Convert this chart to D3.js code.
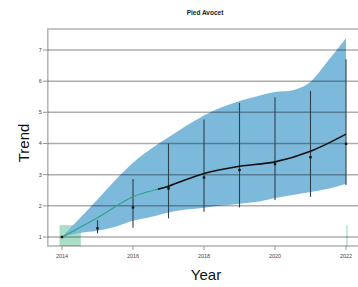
<!DOCTYPE html>
<html lang="en">
<head>
  <meta charset="UTF-8">
  <title>Pied Avocet</title>
  <style>
    body, html { margin: 0; padding: 0; background: #fff; }
    #svg { display: block; }
  </style>
</head>
<body>
  <svg id="svg" width="358" height="287"></svg>
  <script src="https://d3js.org/d3.v7.min.js"></script>
  <script>
    // ribbon, sampled every half year
    const bandYears = [2014, 2014.5, 2015, 2015.5, 2016, 2016.5, 2017, 2017.5, 2018,
                       2018.5, 2019, 2019.5, 2020, 2020.5, 2021, 2021.5, 2022]
    const bandUpper = [1.0, 1.6, 2.2, 2.82, 3.38, 3.82, 4.2, 4.57, 4.9,
                       5.16, 5.36, 5.52, 5.65, 5.71, 5.98, 6.66, 7.38]
    const bandLower = [1.0, 1.13, 1.2, 1.33, 1.52, 1.64, 1.79, 1.88, 1.94,
                       2.01, 2.07, 2.13, 2.25, 2.35, 2.44, 2.55, 2.71]

    // smoothed trend
    const trendYears = [2014, 2015, 2016, 2017, 2018, 2019, 2020, 2021, 2022]
    const trendValues = [1.0, 1.62, 2.29, 2.63, 3.04, 3.27, 3.41, 3.75, 4.3]

    // yearly index with error bars
    const years = [2014, 2015, 2016, 2017, 2018, 2019, 2020, 2021, 2022]
    const index = [1.0, 1.28, 1.95, 2.56, 2.91, 3.15, 3.34, 3.56, 3.99]
    const barLow = [1.0, 1.12, 1.3, 1.6, 1.81, 1.95, 2.19, 2.29, 2.67]
    const barHigh = [1.0, 1.54, 2.86, 4.0, 4.77, 5.3, 5.48, 5.69, 6.7]

    const yTicks = [1, 2, 3, 4, 5, 6, 7]
    const xTicks = [2014, 2016, 2018, 2020, 2022]

    const svg = d3.select('#svg')

    const x = d3.scaleLinear().domain([2014, 2022]).range([62, 346])
    const y = d3.scaleLinear().domain([1, 7]).range([237, 50])

    const panelLeft = x(2013.6), panelTop = y(7.67), panelBottom = y(0.71)

    // green baseline markers (start and end)
    svg.append('rect')
      .attr('x', x(2013.93)).attr('width', x(2014.53) - x(2013.93))
      .attr('y', y(1.38)).attr('height', y(0.71) - y(1.38))
      .attr('fill', '#8fd3b4').attr('opacity', 0.75)
    svg.append('line')
      .attr('x1', x(2022) + 1).attr('x2', x(2022) + 1)
      .attr('y1', y(1.38)).attr('y2', y(0.71))
      .attr('stroke', '#9fdcc3').attr('stroke-width', 1.2)

    // ribbon
    const band = bandYears.map((d, i) => ({ yr: d, lo: bandLower[i], hi: bandUpper[i] }))
    svg.append('path')
      .datum(band)
      .attr('d', d3.area()
        .x(d => x(d.yr))
        .y0(d => y(d.lo))
        .y1(d => y(d.hi))
        .curve(d3.curveMonotoneX))
      .attr('fill', '#7cb9da')

    // grid lines on top of the ribbon
    svg.append('g')
      .selectAll('line')
      .data(yTicks)
      .join('line')
      .attr('x1', panelLeft).attr('x2', 360)
      .attr('y1', d => y(d)).attr('y2', d => y(d))
      .attr('stroke', '#000').attr('stroke-opacity', 0.32).attr('stroke-width', 1.5)

    // frame
    svg.append('path')
      .attr('d', `M360,${panelTop}H${panelLeft}V${panelBottom}H360`)
      .attr('fill', 'none')
      .attr('stroke', '#000').attr('stroke-opacity', 0.3).attr('stroke-width', 1.5)

    // y ticks
    const yAxis = svg.append('g')
    yAxis.selectAll('line')
      .data(yTicks)
      .join('line')
      .attr('x1', panelLeft - 5).attr('x2', panelLeft)
      .attr('y1', d => y(d)).attr('y2', d => y(d))
      .attr('stroke', '#999').attr('stroke-width', 1)
    yAxis.selectAll('text')
      .data(yTicks)
      .join('text')
      .attr('x', panelLeft - 6)
      .attr('y', d => y(d))
      .attr('dy', '0.35em')
      .attr('text-anchor', 'end')
      .attr('font-family', 'Liberation Sans, Arial, sans-serif')
      .attr('font-size', 5.5)
      .attr('fill', '#444')
      .text(d => d)

    // x ticks
    const xAxis = svg.append('g')
    xAxis.selectAll('line')
      .data(xTicks)
      .join('line')
      .attr('x1', d => x(d)).attr('x2', d => x(d))
      .attr('y1', panelBottom).attr('y2', panelBottom + 4)
      .attr('stroke', '#999').attr('stroke-width', 1)
    xAxis.selectAll('text')
      .data(xTicks)
      .join('text')
      .attr('x', d => x(d))
      .attr('y', panelBottom + 12)
      .attr('text-anchor', 'middle')
      .attr('font-family', 'Liberation Sans, Arial, sans-serif')
      .attr('font-size', 5.5)
      .attr('fill', '#444')
      .text(d => d)

    // error bars
    svg.append('g')
      .selectAll('line')
      .data(years)
      .join('line')
      .attr('x1', d => x(d)).attr('x2', d => x(d))
      .attr('y1', (d, i) => y(barLow[i]))
      .attr('y2', (d, i) => y(barHigh[i]))
      .attr('stroke', '#2e414c').attr('stroke-width', 1.1)

    // trend line: green early part, black afterwards
    const trend = trendYears.map((d, i) => ({ yr: d, v: trendValues[i] }))
    const trendLine = d3.line()
      .x(d => x(d.yr))
      .y(d => y(d.v))
      .curve(d3.curveMonotoneX)

    const defs = svg.append('defs')
    defs.append('clipPath').attr('id', 'early')
      .append('rect').attr('x', 0).attr('y', 0).attr('width', x(2016.7)).attr('height', 287)
    defs.append('clipPath').attr('id', 'late')
      .append('rect').attr('x', x(2016.7)).attr('y', 0).attr('width', 358).attr('height', 287)

    svg.append('path')
      .datum(trend)
      .attr('d', trendLine)
      .attr('clip-path', 'url(#early)')
      .attr('fill', 'none')
      .attr('stroke', '#2aa582')
      .attr('stroke-width', 1.2)
    svg.append('path')
      .datum(trend)
      .attr('d', trendLine)
      .attr('clip-path', 'url(#late)')
      .attr('fill', 'none')
      .attr('stroke', '#111')
      .attr('stroke-width', 1.6)

    // points
    svg.append('g')
      .selectAll('rect')
      .data(years)
      .join('rect')
      .attr('x', d => x(d) - 1.2)
      .attr('y', (d, i) => y(index[i]) - 1.2)
      .attr('width', 2.4).attr('height', 2.4)
      .attr('fill', '#111')

    // titles
    svg.append('text')
      .attr('x', 205).attr('y', 15)
      .attr('text-anchor', 'middle')
      .attr('font-family', 'Liberation Sans, Arial, sans-serif')
      .attr('font-size', 6.5)
      .attr('font-weight', 'bold')
      .attr('fill', '#222')
      .text('Pied Avocet')

    svg.append('text')
      .attr('x', 206).attr('y', 280)
      .attr('text-anchor', 'middle')
      .attr('font-family', 'Liberation Sans, Arial, sans-serif')
      .attr('font-size', 15)
      .attr('fill', '#111')
      .text('Year')

    svg.append('text')
      .attr('transform', 'translate(29, 143) rotate(-90)')
      .attr('text-anchor', 'middle')
      .attr('font-family', 'Liberation Sans, Arial, sans-serif')
      .attr('font-size', 15)
      .attr('fill', '#111')
      .text('Trend')
  </script>
</body>
</html>
